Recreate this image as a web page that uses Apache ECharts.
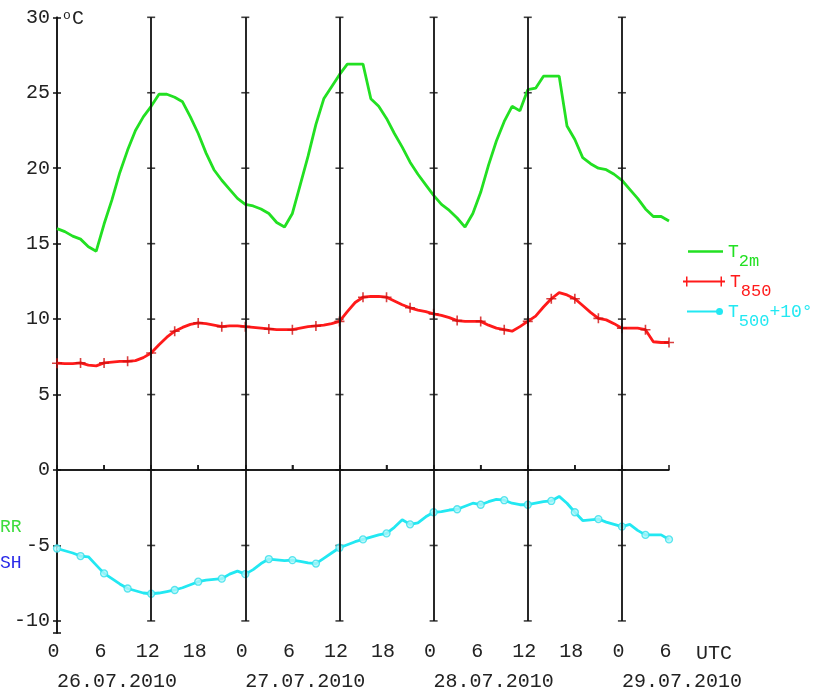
<!DOCTYPE html>
<html>
<head>
<meta charset="utf-8">
<script src="https://cdn.jsdelivr.net/npm/echarts@6/dist/echarts.min.js"></script>
<style>html,body{margin:0;padding:0;background:#fff;}#c{width:822px;height:699px;}</style>
</head>
<body>
<div id="c"></div>
<script>
// ---- data (hours since 26.07.2010 00 UTC) ----
const hours = [0,1,2,3,4,5,6,7,8,9,10,11,12,13,14,15,16,17,18,19,20,21,22,23,24,25,26,27,28,29,30,31,32,33,34,35,36,37,38,39,40,41,42,43,44,45,46,47,48,49,50,51,52,53,54,55,56,57,58,59,60,61,62,63,64,65,66,67,68,69,70,71,72,73,74,75,76,77,78];
const t2m = [16.0,15.8,15.5,15.3,14.8,14.5,16.3,17.9,19.7,21.2,22.5,23.4,24.1,24.9,24.9,24.7,24.4,23.4,22.3,21.0,19.9,19.2,18.6,18.0,17.6,17.5,17.3,17.0,16.4,16.1,17.0,18.9,20.8,22.9,24.6,25.4,26.2,26.9,26.9,26.9,24.6,24.1,23.3,22.3,21.4,20.4,19.6,18.9,18.2,17.6,17.2,16.7,16.1,17.0,18.4,20.2,21.8,23.1,24.1,23.8,25.2,25.3,26.1,26.1,26.1,22.8,21.9,20.7,20.3,20.0,19.9,19.6,19.2,18.6,18.0,17.3,16.8,16.8,16.5];
const t850 = [7.08,7.05,7.05,7.1,6.95,6.9,7.1,7.15,7.2,7.2,7.25,7.45,7.75,8.3,8.8,9.2,9.45,9.65,9.75,9.7,9.6,9.5,9.55,9.55,9.5,9.45,9.4,9.35,9.3,9.3,9.3,9.4,9.5,9.55,9.6,9.7,9.85,10.5,11.1,11.45,11.5,11.5,11.45,11.2,10.95,10.75,10.6,10.5,10.35,10.25,10.1,9.9,9.85,9.85,9.85,9.6,9.4,9.3,9.2,9.5,9.85,10.2,10.8,11.35,11.75,11.6,11.35,10.9,10.45,10.05,9.95,9.7,9.4,9.4,9.4,9.3,8.5,8.45,8.45];
const t500p10 = [-5.2,-5.35,-5.5,-5.7,-5.75,-6.3,-6.85,-7.2,-7.55,-7.85,-8.0,-8.15,-8.2,-8.15,-8.05,-7.95,-7.8,-7.6,-7.4,-7.3,-7.25,-7.2,-6.9,-6.7,-6.9,-6.6,-6.2,-5.9,-5.95,-6.0,-5.97,-6.05,-6.15,-6.2,-5.85,-5.5,-5.15,-4.95,-4.75,-4.6,-4.45,-4.3,-4.2,-3.8,-3.3,-3.6,-3.5,-3.1,-2.8,-2.75,-2.65,-2.6,-2.4,-2.2,-2.3,-2.1,-1.95,-2.0,-2.2,-2.3,-2.3,-2.2,-2.1,-2.05,-1.75,-2.2,-2.8,-3.35,-3.3,-3.25,-3.45,-3.6,-3.75,-3.6,-4.0,-4.3,-4.3,-4.3,-4.6];
const markerStep = 3;                 // markers every 3 hours
const dayLabels = ['26.07.2010','27.07.2010','28.07.2010','29.07.2010'];
const splitHours = [12,24,36,48,60,72];
const yTicks = [-10,-5,0,5,10,15,20,25,30];
const zeroTickHours = [6,18,30,42,54,66];

const FONT = 'Liberation Mono';
const GREEN = '#22e022', RED = '#ff1a1a', CYAN = '#22e8f2';

const pairs = (ys) => hours.map((h, i) => [h, ys[i]]);
const marks = (ys) => hours.map((h, i) => [h, ys[i]]).filter(p => p[0] % markerStep === 0);

const dayLineData = splitHours.map(h => [{coord: [h, yTicks[0]]}, {coord: [h, yTicks[yTicks.length - 1]]}]);
const dayTickData = [];
splitHours.forEach(h => yTicks.forEach(v => dayTickData.push([h, v])));

const chart = echarts.init(document.getElementById('c'), null, {renderer: 'canvas'});
const subRich = (color) => ({
  t: {fontFamily: FONT, fontSize: 18, color: color, padding: [10, 0, 0, 0], verticalAlign: 'top'},
  s: {fontFamily: FONT, fontSize: 17, color: color, padding: [20, 0, 0, 0], verticalAlign: 'top'}
});
const option = {
  animation: false,
  backgroundColor: '#fff',
  grid: {left: 57, right: 153, top: 17.3, bottom: 66},
  xAxis: [{
    type: 'value', min: 0, max: 78, interval: 6, position: 'bottom',
    axisLine: {lineStyle: {color: '#111', width: 1.5}},
    axisTick: {inside: true, length: 5, lineStyle: {color: '#111', width: 1.5}},
    splitLine: {show: false},
    axisLabel: {fontFamily: FONT, fontSize: 20, color: '#222', margin: 9, padding: [0, 7, 0, 0],
      formatter: v => String(v % 24)}
  }, {
    type: 'value', min: 0, max: 78, interval: 24, position: 'bottom',
    axisLine: {show: false}, axisTick: {show: false}, splitLine: {show: false},
    axisLabel: {fontFamily: FONT, fontSize: 20, color: '#222', margin: 39, align: 'left',
      formatter: v => (v % 24 === 0 && v / 24 < dayLabels.length) ? dayLabels[v / 24] : ''}
  }],
  yAxis: [{
    type: 'value', min: -10.8, max: 30, splitNumber: 8, position: 'left',
    axisLine: {show: true, lineStyle: {color: '#111', width: 1.5}},
    axisTick: {show: true, length: 4, lineStyle: {color: '#111', width: 1.5}},
    splitLine: {show: false},
    axisLabel: {fontFamily: FONT, fontSize: 20, color: '#222', margin: 7,
      formatter: v => (Math.abs(v % 5) < 1e-6 ? String(v) : '')}
  }, {
    type: 'value', min: -10.8, max: 30, splitNumber: 8, position: 'right',
    axisLine: {show: true, lineStyle: {color: '#111', width: 1.5}},
    axisTick: {show: true, length: 4, lineStyle: {color: '#111', width: 1.5}},
    splitLine: {show: false}, axisLabel: {show: false}
  }],
  legend: [{
    orient: 'vertical', left: 688, top: 243, padding: 0, selectedMode: false,
    data: ['T2m'], itemWidth: 35, itemHeight: 2.5, icon: 'rect',
    formatter: () => '{t|T}{s|2m}', textStyle: {rich: subRich(GREEN)}
  }, {
    orient: 'vertical', left: 683, top: 273, padding: 0, selectedMode: false,
    data: ['T850'], itemWidth: 42, itemHeight: 10,
    icon: 'path://M0,4h42v2H0z M3,0h1.5v10H3z M37.5,0h1.5v10h-1.5z',
    formatter: () => '{t|T}{s|850}', textStyle: {rich: subRich(RED)}
  }, {
    orient: 'vertical', left: 687, top: 303, padding: 0, selectedMode: false,
    data: ['T500+10°'], itemWidth: 36, itemHeight: 7,
    icon: 'path://M0,2.5h31v2H0z M36,3.5a3.5,3.5 0 1 1 -7,0a3.5,3.5 0 1 1 7,0z',
    formatter: () => '{t|T}{s|500}{t|+10°}', textStyle: {rich: subRich(CYAN)}
  }],
  series: [
    {
      name: 'T2m', type: 'line', data: pairs(t2m), symbol: 'none', z: 3,
      lineStyle: {color: GREEN, width: 2.8}, itemStyle: {color: GREEN},
      markLine: {
        silent: true, symbol: 'none', label: {show: false}, animation: false,
        lineStyle: {color: '#111', width: 1.8, type: 'solid'},
        data: [...dayLineData, {yAxis: 0, lineStyle: {width: 1.5}}]
      }
    },
    {
      name: 'T850', type: 'line', data: pairs(t850), symbol: 'none', z: 3,
      lineStyle: {color: RED, width: 2.8}, itemStyle: {color: RED}
    },
    {
      name: 'T850 marks', type: 'scatter', data: marks(t850), z: 4, silent: true,
      symbol: 'path://M4.2,0h1.6v10h-1.6zM0,4.2h10v1.6h-10z', symbolSize: 10,
      itemStyle: {color: '#d01010'}
    },
    {
      name: 'T500+10°', type: 'line', data: pairs(t500p10), symbol: 'none', z: 3,
      lineStyle: {color: CYAN, width: 2.8}, itemStyle: {color: CYAN}
    },
    {
      name: 'T500 marks', type: 'scatter', data: marks(t500p10), z: 4, silent: true,
      symbol: 'circle', symbolSize: 7,
      itemStyle: {color: '#aef6fa', borderColor: '#35dfea', borderWidth: 1.3}
    },
    {
      name: 'day ticks', type: 'scatter', data: dayTickData, silent: true, z: 2,
      symbol: 'rect', symbolSize: [8, 1.6], itemStyle: {color: '#111'}
    },
    {
      name: 'zero ticks', type: 'scatter', data: zeroTickHours.map(h => [h, 0]), silent: true, z: 2,
      symbol: 'rect', symbolSize: [1.6, 5], symbolOffset: [0, -2.5], itemStyle: {color: '#111'}
    }
  ],
  graphic: [
    {type: 'text', left: 63, top: 9, style: {text: 'o', fontFamily: FONT, fontSize: 13, fill: '#222'}},
    {type: 'text', left: 72, top: 9, style: {text: 'C', fontFamily: FONT, fontSize: 20, fill: '#222'}},
    {type: 'text', left: 696, top: 644, style: {text: 'UTC', fontFamily: FONT, fontSize: 20, fill: '#222'}},
    {type: 'text', left: 0, top: 518, style: {text: 'RR', fontFamily: FONT, fontSize: 18, fill: '#3ddc3d'}},
    {type: 'text', left: 0, top: 554, style: {text: 'SH', fontFamily: FONT, fontSize: 18, fill: '#2a2ae8'}}
  ]
};
chart.setOption(option);
</script>
</body>
</html>
